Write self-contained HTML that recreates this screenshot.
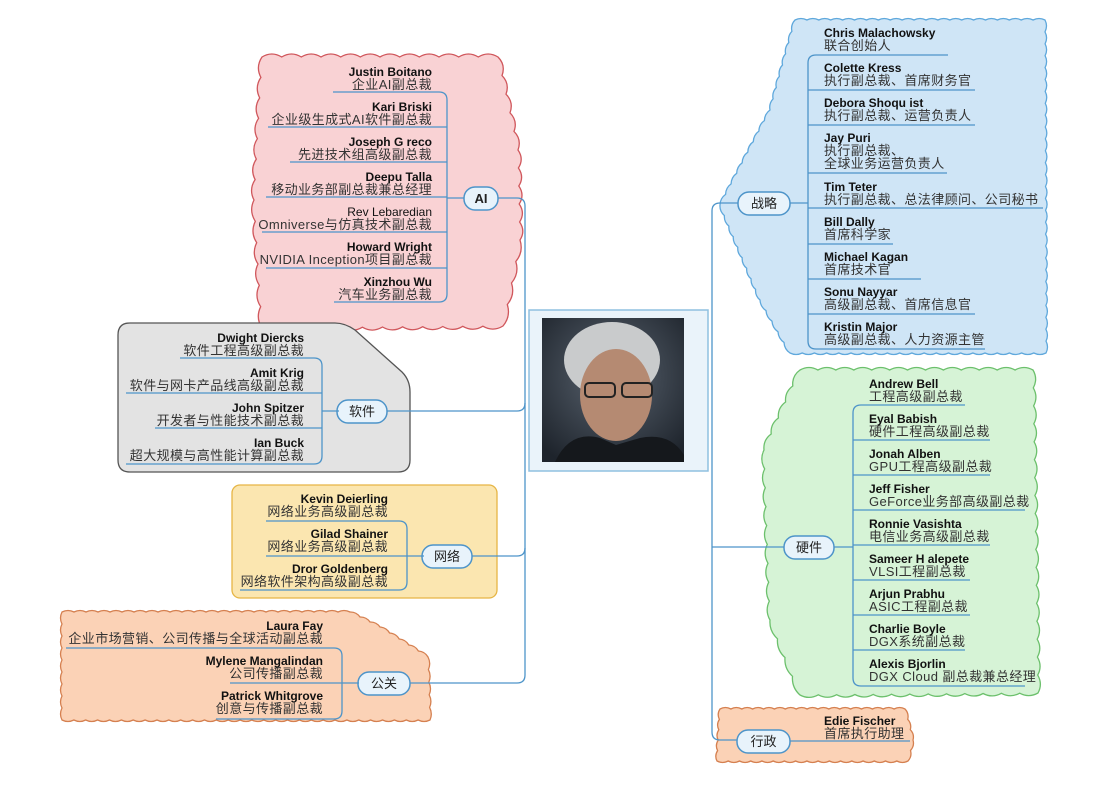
<!DOCTYPE html>
<html><head><meta charset="utf-8">
<style>
html,body{margin:0;padding:0;background:#fff;}
svg{display:block;font-family:"Liberation Sans","Noto Sans CJK SC",sans-serif;}
.n{font-weight:bold;font-size:12px;fill:#111;}
.t{font-size:13px;fill:#333;letter-spacing:0.4px;}
.nd{font-size:13px;fill:#222;}
</style></head>
<body>
<svg id="s" width="1096" height="800" viewBox="0 0 1096 800" xmlns="http://www.w3.org/2000/svg"></svg>
<script>
var S=document.getElementById('s'),out='';
function wavy(pts,amp,step){
 var d='M'+pts[0][0]+' '+pts[0][1];
 for(var i=0;i<pts.length;i++){
  var a=pts[i],b=pts[(i+1)%pts.length];
  var dx=b[0]-a[0],dy=b[1]-a[1],L=Math.hypot(dx,dy),n=Math.max(1,Math.round(L/step));
  var nx=dy/L,ny=-dx/L;
  for(var k=0;k<n;k++){
   var x1=a[0]+dx*(k+1)/n,y1=a[1]+dy*(k+1)/n;
   var cx=a[0]+dx*(k+.5)/n+nx*amp,cy=a[1]+dy*(k+.5)/n+ny*amp;
   d+=' Q'+cx.toFixed(1)+' '+cy.toFixed(1)+' '+x1.toFixed(1)+' '+y1.toFixed(1);
  }
 }
 return d+'Z';
}
function shape(d,f,s){out+='<path d="'+d+'" fill="'+f+'" stroke="'+s+'" stroke-width="1.3"/>';}
shape(wavy([[262,57],[498,57],[518,150],[520,240],[503,326],[262,328],[254,200]],6,20),'#f9d2d4','#d0575c');
shape(wavy([[795,20],[1045,20],[1046,353],[790,353],[760,300],[720,205],[770,110]],3,12),'#cfe5f6','#5fa8dc');
shape(wavy([[800,370],[1033,370],[1038,693],[800,695],[770,620],[764,450]],5,18),'#d6f3d6','#6cc06c');
shape(wavy([[62,612],[350,612],[380,627],[428,657],[430,720],[62,720]],3,12),'#fbd2b6','#d58050');
shape(wavy([[720,709],[905,709],[913,740],[908,761],[717,761]],3,11),'#fbd2b6','#d58050');
out+='<path d="M130 323 L335 323 Q345 323 355 330 L402 372 Q410 380 410 392 L410 460 Q410 472 398 472 L130 472 Q118 472 118 460 L118 335 Q118 323 130 323Z" fill="#e3e3e3" stroke="#555" stroke-width="1.3"/>';
out+='<rect x="232" y="485" width="265" height="113" rx="8" fill="#fbe6b0" stroke="#e6b545" stroke-width="1.3"/>';
var C='#4d94c9';
function L(d){out+='<path d="'+d+'" fill="none" stroke="'+C+'" stroke-width="1.3"/>';}
L('M498 198 L517 198 Q525 198 525 206 L525 675 Q525 683 517 683 L410 683');
L('M387 411 L517 411 Q525 411 525 403');
L('M472 556 L517 556 Q525 556 525 548');
L('M738 203 L720 203 Q712 203 712 211 L712 732 Q712 740 720 740 L737 740');
L('M834 547 L712 547');
out+='<rect x="529" y="310" width="179" height="161" fill="#eaf3fa" stroke="#8fc0e0" stroke-width="1.5"/>';
out+='<defs><radialGradient id="bg" cx="50%" cy="40%" r="70%"><stop offset="0" stop-color="#5a6470"/><stop offset="1" stop-color="#1e242c"/></radialGradient></defs>';
out+='<rect x="542" y="318" width="142" height="144" fill="url(#bg)"/>';
out+='<ellipse cx="612" cy="360" rx="48" ry="38" fill="#c9cbcc"/>';
out+='<ellipse cx="616" cy="395" rx="36" ry="46" fill="#b58a72"/>';
out+='<rect x="585" y="383" width="30" height="14" rx="4" fill="none" stroke="#222" stroke-width="2"/><rect x="622" y="383" width="30" height="14" rx="4" fill="none" stroke="#222" stroke-width="2"/>';
out+='<path d="M555 462 Q570 430 600 438 L616 445 L640 438 Q670 432 684 455 L684 462Z" fill="#15181c"/>';
function node(x,y,w,txt){out+='<rect x="'+x+'" y="'+y+'" width="'+w+'" height="23" rx="11" fill="#e8f3fb" stroke="'+C+'" stroke-width="1.5"/><text class="nd" x="'+(x+w/2)+'" y="'+(y+16)+'" text-anchor="middle"'+(txt=='AI'?' font-weight="bold"':'')+'>'+txt+'</text>';}
node(464,187,34,'AI');node(738,192,52,'战略');node(337,400,50,'软件');node(422,545,50,'网络');node(358,672,52,'公关');node(784,536,50,'硬件');node(737,730,53,'行政');
function rgroup(tx,bx,nodeY,items){
 var top=items[0][3],bot=items[items.length-1][3];
 items.forEach(function(it){
  var y=it[0];
  out+='<text class="n" x="'+tx+'" y="'+(y+4)+'" text-anchor="end">'+it[1]+'</text>';
  for(var j=0;j<it[2].length;j++)out+='<text class="t" x="'+tx+'" y="'+(y+17+13*j)+'" text-anchor="end">'+it[2][j]+'</text>';
  var u=it[3];
  if(u==top) L('M'+it[4]+' '+u+' L'+(bx-8)+' '+u+' Q'+bx+' '+u+' '+bx+' '+(u+8));
  else if(u==bot) L('M'+it[4]+' '+u+' L'+(bx-8)+' '+u+' Q'+bx+' '+u+' '+bx+' '+(u-8));
  else L('M'+it[4]+' '+u+' L'+bx+' '+u);
 });
 L('M'+bx+' '+(top+8)+' L'+bx+' '+(bot-8));
 L('M'+bx+' '+nodeY+' L'+(bx+17)+' '+nodeY);
}
function lgroup(tx,bx,nodeX,nodeY,items){
 var top=items[0][3],bot=items[items.length-1][3];
 items.forEach(function(it){
  var y=it[0];
  out+='<text class="n" x="'+tx+'" y="'+(y+4)+'">'+it[1]+'</text>';
  for(var j=0;j<it[2].length;j++)out+='<text class="t" x="'+tx+'" y="'+(y+17+13*j)+'">'+it[2][j]+'</text>';
  var u=it[3];
  if(u==top) L('M'+it[4]+' '+u+' L'+(bx+8)+' '+u+' Q'+bx+' '+u+' '+bx+' '+(u+8));
  else if(u==bot) L('M'+it[4]+' '+u+' L'+(bx+8)+' '+u+' Q'+bx+' '+u+' '+bx+' '+(u-8));
  else L('M'+it[4]+' '+u+' L'+bx+' '+u);
 });
 L('M'+bx+' '+(top+8)+' L'+bx+' '+(bot-8));
 L('M'+nodeX+' '+nodeY+' L'+bx+' '+nodeY);
}
rgroup(432,447,198,[
 [72,'Justin Boitano',['企业AI副总裁'],92,333],
 [107,'Kari Briski',['企业级生成式AI软件副总裁'],127,268],
 [142,'Joseph G reco',['先进技术组高级副总裁'],162,290],
 [177,'Deepu  Talla',['移动业务部副总裁兼总经理'],197,266],
 [212,'<tspan font-weight="normal">Rev  Lebaredian</tspan>',['Omniverse与仿真技术副总裁'],232,262],
 [247,'Howard Wright',['NVIDIA  Inception项目副总裁'],268,266],
 [282,'Xinzhou Wu',['汽车业务副总裁'],302,334]]);
rgroup(304,322,411,[
 [338,'Dwight Diercks',['软件工程高级副总裁'],358,180],
 [373,'Amit  Krig',['软件与网卡产品线高级副总裁'],393,126],
 [408,'John Spitzer',['开发者与性能技术副总裁'],428,155],
 [443,'Ian Buck',['超大规模与高性能计算副总裁'],464,126]]);
rgroup(388,407,556,[
 [499,'Kevin Deierling',['网络业务高级副总裁'],521,266],
 [534,'Gilad Shainer',['网络业务高级副总裁'],556,266],
 [569,'Dror Goldenberg',['网络软件架构高级副总裁'],590,240]]);
rgroup(323,342,683,[
 [626,'Laura Fay',['企业市场营销、公司传播与全球活动副总裁'],648,66],
 [661,'Mylene Mangalindan',['公司传播副总裁'],683,230],
 [696,'Patrick  Whitgrove',['创意与传播副总裁'],719,216]]);
lgroup(824,808,790,203,[
 [33,'Chris Malachowsky',['联合创始人'],55,948],
 [68,'Colette Kress',['执行副总裁、首席财务官'],90,975],
 [103,'Debora Shoqu ist',['执行副总裁、运营负责人'],125,975],
 [138,'Jay  Puri',['执行副总裁、','全球业务运营负责人'],173,947],
 [187,'Tim Teter',['执行副总裁、总法律顾问、公司秘书'],208,1043],
 [222,'Bill Dally',['首席科学家'],244,893],
 [257,'Michael Kagan',['首席技术官'],279,921],
 [292,'Sonu Nayyar',['高级副总裁、首席信息官'],314,975],
 [327,'Kristin Major',['高级副总裁、人力资源主管'],349,985]]);
lgroup(869,853,834,547,[
 [384,'Andrew Bell',['工程高级副总裁'],405,965],
 [419,'Eyal Babish',['硬件工程高级副总裁'],440,990],
 [454,'Jonah Alben',['GPU工程高级副总裁'],475,990],
 [489,'Jeff Fisher',['GeForce业务部高级副总裁'],510,1025],
 [524,'Ronnie Vasishta',['电信业务高级副总裁'],545,990],
 [559,'Sameer H alepete',['VLSI工程副总裁'],580,970],
 [594,'Arjun Prabhu',['ASIC工程副总裁'],615,970],
 [629,'Charlie Boyle',['DGX系统副总裁'],650,965],
 [664,'Alexis Bjorlin',['DGX Cloud 副总裁兼总经理'],686,1025]]);
out+='<text class="n" x="824" y="725">Edie Fischer</text><text class="t" x="824" y="738">首席执行助理</text>';
L('M790 741 L910 741');
S.innerHTML=out;
</script>
</body></html>
